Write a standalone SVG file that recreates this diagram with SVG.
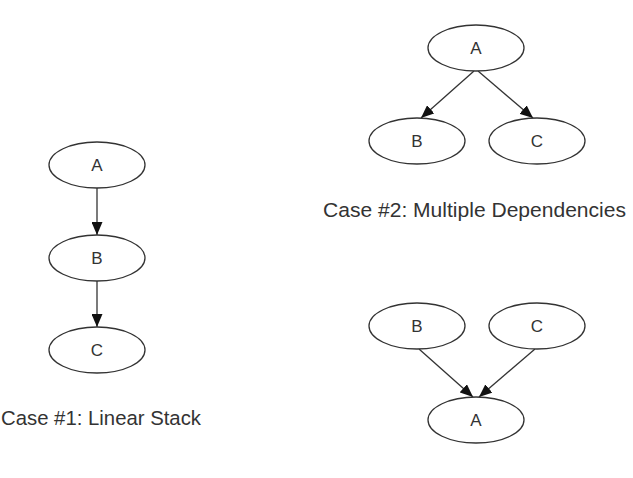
<svg xmlns="http://www.w3.org/2000/svg" width="633" height="478" viewBox="0 0 633 478">
<style>
.node ellipse{fill:#fff;stroke:#333;stroke-width:1.3}
.node text{font-family:"Liberation Sans",Arial,sans-serif;font-size:17px;fill:#333;text-anchor:middle}
.edge{stroke:#333;stroke-width:1.3;fill:none;marker-end:url(#arrow)}
.caption{font-family:"Liberation Sans",Arial,sans-serif;font-size:20.5px;fill:#333}
</style>
<defs>
<marker id="arrow" markerUnits="userSpaceOnUse" markerWidth="13" markerHeight="11" refX="13" refY="5.5" orient="auto">
<path d="M0,0 L13,5.5 L0,11 z" fill="#111"/>
</marker>
</defs>
<rect width="633" height="478" fill="#fff"/>
<g id="connectors">
<line class="edge" x1="97" y1="188" x2="97" y2="235"/>
<line class="edge" x1="97" y1="281" x2="97" y2="327"/>
<line class="edge" x1="474" y1="71" x2="421" y2="118"/>
<line class="edge" x1="478" y1="71" x2="533" y2="118"/>
<line class="edge" x1="419" y1="349" x2="473" y2="397"/>
<line class="edge" x1="535" y1="349" x2="479" y2="397"/>
</g>
<g id="c1-A" class="node"><ellipse cx="97" cy="165" rx="48" ry="23"/><text x="97" y="171">A</text></g>
<g id="c1-B" class="node"><ellipse cx="97" cy="258" rx="48" ry="23"/><text x="97" y="264">B</text></g>
<g id="c1-C" class="node"><ellipse cx="97" cy="350" rx="48" ry="23"/><text x="97" y="356">C</text></g>
<g id="c2-A" class="node"><ellipse cx="476" cy="48" rx="48" ry="23"/><text x="476" y="54">A</text></g>
<g id="c2-B" class="node"><ellipse cx="417" cy="141" rx="48" ry="23"/><text x="417" y="147">B</text></g>
<g id="c2-C" class="node"><ellipse cx="537" cy="141" rx="48" ry="23"/><text x="537" y="147">C</text></g>
<g id="c3-B" class="node"><ellipse cx="417" cy="326" rx="48" ry="23"/><text x="417" y="332">B</text></g>
<g id="c3-C" class="node"><ellipse cx="537" cy="326" rx="48" ry="23"/><text x="537" y="332">C</text></g>
<g id="c3-A" class="node"><ellipse cx="476" cy="420" rx="48" ry="23"/><text x="476" y="426">A</text></g>
<text class="caption" x="1" y="425" textLength="200" lengthAdjust="spacingAndGlyphs">Case #1: Linear Stack</text>
<text class="caption" x="323" y="217" textLength="303" lengthAdjust="spacingAndGlyphs">Case #2: Multiple Dependencies</text>
</svg>
